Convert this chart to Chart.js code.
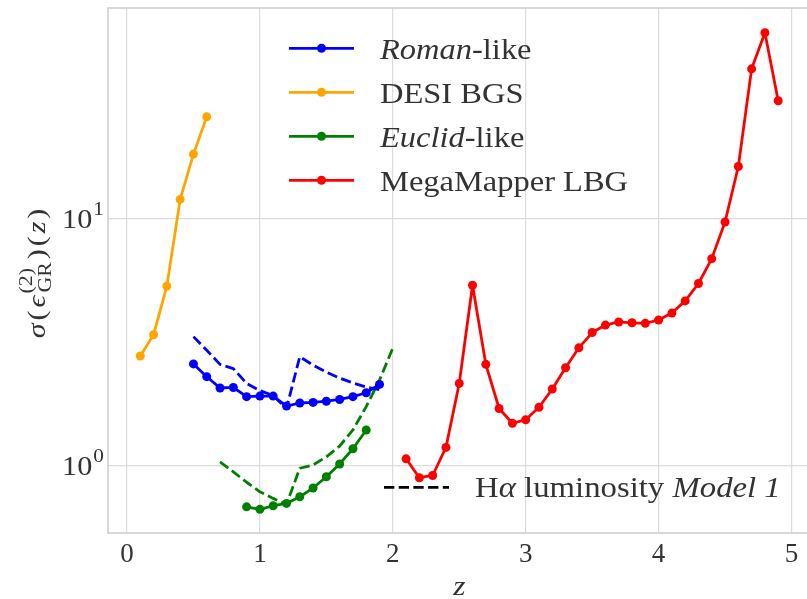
<!DOCTYPE html>
<html>
<head>
<meta charset="utf-8">
<script src="https://cdn.jsdelivr.net/npm/chart.js@4.4.1/dist/chart.umd.min.js"></script>
<style>
	html, body { margin: 0; padding: 0; overflow: hidden; background: #fff; }
	canvas { display: block; }
</style>
</head>
<body>
<canvas id="chart" width="815" height="599" style="width:815px;height:599px"></canvas>
<script>
// redshift grids
const zDesi = [0.1, 0.2, 0.3, 0.4, 0.5, 0.6];
const zRoman = [0.5, 0.6, 0.7, 0.8, 0.9, 1.0, 1.1, 1.2, 1.3, 1.4, 1.5, 1.6, 1.7, 1.8, 1.9];
const zEuclid = [0.9, 1.0, 1.1, 1.2, 1.3, 1.4, 1.5, 1.6, 1.7, 1.8];
const zEuclidModel = [0.7, 0.8, 0.9, 1.0, 1.1, 1.2, 1.3, 1.4, 1.5, 1.6, 1.7, 1.8, 1.9, 2.0];
const zMega = [2.1, 2.2, 2.3, 2.4, 2.5, 2.6, 2.7, 2.8, 2.9, 3.0, 3.1, 3.2, 3.3, 3.4, 3.5,
	3.6, 3.7, 3.8, 3.9, 4.0, 4.1, 4.2, 4.3, 4.4, 4.5, 4.6, 4.7, 4.8, 4.9];

// sigma(eps_GR^(2))(z)
const sigmaDesi = [2.79, 3.40, 5.35, 12.0, 18.3, 25.9];
const sigmaRoman = [2.59, 2.30, 2.07, 2.08, 1.91, 1.92, 1.92, 1.75, 1.80, 1.81, 1.83, 1.86, 1.91, 1.98, 2.14];
const sigmaRomanModel1 = [3.34, 2.94, 2.58, 2.48, 2.16, 2.02, 1.93, 1.71, 2.77, 2.56, 2.40, 2.27, 2.17, 2.09, 2.04];
const sigmaEuclid = [0.684, 0.668, 0.691, 0.706, 0.751, 0.815, 0.905, 1.02, 1.175, 1.40];
const sigmaEuclidModel1 = [1.04, 0.948, 0.86, 0.787, 0.74, 0.70, 0.98, 1.01, 1.09, 1.205, 1.40, 1.74, 2.23, 3.0];
const sigmaMega = [1.07, 0.897, 0.916, 1.19, 2.16, 5.39, 2.58, 1.71, 1.49, 1.54, 1.73, 2.05, 2.50, 3.01, 3.47,
	3.72, 3.83, 3.80, 3.78, 3.90, 4.16, 4.66, 5.48, 6.91, 9.72, 16.3, 40.5, 56.7, 30.1];

const xTicks = [0, 1, 2, 3, 4, 5];
const yTicks = [1, 10];
const yTickExp = ["0", "1"];

const SERIF = '"Liberation Serif", "DejaVu Serif", serif';
const TEXT = "#333333";
const GRID = "#dcdcdc";
const STRETCH = 1.12; // the original uses a wider (Computer Modern) face

const pts = (xs, ys) => xs.map((x, i) => ({ x: x, y: ys[i] }));

function solid(label, xs, ys, color) {
	return {
		label: label,
		data: pts(xs, ys),
		borderColor: color,
		backgroundColor: color,
		borderWidth: 2.8,
		borderJoinStyle: "round",
		pointRadius: 4.5,
		pointBorderWidth: 0,
		pointBackgroundColor: color,
		tension: 0,
	};
}

function dashed(label, xs, ys, color) {
	return {
		label: label,
		data: pts(xs, ys),
		borderColor: color,
		borderWidth: 2.8,
		borderJoinStyle: "round",
		borderDash: [10.3, 4.4],
		pointRadius: 0,
		tension: 0,
	};
}

function setFont(ctx, r) {
	ctx.font = `${r.italic ? "italic " : ""}${r.size}px ${SERIF}`;
}

// width of a run list once stretched and letter spaced
function runsWidth(ctx, runs, sx, ls) {
	let w = 0;
	runs.forEach((r) => {
		setFont(ctx, r);
		for (const ch of r.text) w += ctx.measureText(ch).width * sx + ls;
	});
	return w;
}

// draw text made of several runs (regular / italic) left to right
function drawRuns(ctx, runs, x, y, sx = STRETCH, ls = 0) {
	runs.forEach((r) => {
		setFont(ctx, r);
		for (const ch of r.text) {
			ctx.save();
			ctx.translate(x, y + (r.dy || 0));
			ctx.scale(sx, 1);
			ctx.fillText(ch, 0, 0);
			ctx.restore();
			x += ctx.measureText(ch).width * sx + ls;
		}
	});
	return x;
}

const decorations = {
	id: "decorations",
	beforeDatasetsDraw(chart) {
		const { ctx, chartArea } = chart;
		ctx.save();
		ctx.strokeStyle = "#cccccc";
		ctx.lineWidth = 1.5;
		ctx.strokeRect(chartArea.left, chartArea.top, chartArea.right - chartArea.left, chartArea.bottom - chartArea.top);
		ctx.restore();
	},
	afterDraw(chart) {
		const { ctx, chartArea } = chart;
		const yScale = chart.scales.y;
		ctx.save();
		ctx.fillStyle = TEXT;
		ctx.textBaseline = "alphabetic";
		ctx.textAlign = "left";

		// y tick labels 10^n
		yTicks.forEach((v, i) => {
			const py = yScale.getPixelForValue(v);
			const base = [{ text: "10", size: 27 }];
			const exp = [{ text: yTickExp[i], size: 19 }];
			const w = runsWidth(ctx, base, STRETCH, 0) + 1 + runsWidth(ctx, exp, STRETCH, 0);
			const x = drawRuns(ctx, base, 104 - w, py + 9);
			drawRuns(ctx, exp, x + 1, py - 4);
		});

		// x axis title
		drawRuns(ctx, [{ text: "z", italic: true, size: 28 }], (chartArea.left + chartArea.right) / 2 - 6, 595);

		// y axis title: sigma(eps^(2)_GR)(z)
		ctx.save();
		ctx.translate(45, 272);
		ctx.rotate(-Math.PI / 2);
		const head = [
			{ text: "σ", italic: true, size: 26 },
			{ text: "(", size: 26 },
			{ text: "ϵ", italic: true, size: 26 },
		];
		const tail = [
			{ text: ")(", size: 26 },
			{ text: "z", italic: true, size: 26 },
			{ text: ")", size: 26 },
		];
		const sx = 1.15;
		const ls = 3;
		const wSup = runsWidth(ctx, [{ text: "(2)", size: 19 }], sx, 0);
		const wSub = runsWidth(ctx, [{ text: "GR", size: 19 }], sx, 0);
		const wStack = Math.max(wSup, wSub) + ls;
		const total = runsWidth(ctx, head, sx, ls) + wStack + runsWidth(ctx, tail, sx, ls);
		let x = drawRuns(ctx, head, -total / 2, 0, sx, ls);
		drawRuns(ctx, [{ text: "(2)", size: 19 }], x - 1, -13, sx, 0);
		drawRuns(ctx, [{ text: "GR", size: 19 }], x, 6, sx, 0);
		x += wStack;
		drawRuns(ctx, tail, x, 0, sx, ls);
		ctx.restore();

		// main legend
		const legendRows = [
			{ color: "#0000ff", runs: [{ text: "Roman", italic: true, size: 29 }, { text: "-like", size: 29 }] },
			{ color: "#ffa500", runs: [{ text: "DESI BGS", size: 29 }] },
			{ color: "#008000", runs: [{ text: "Euclid", italic: true, size: 29 }, { text: "-like", size: 29 }] },
			{ color: "#ff0000", runs: [{ text: "MegaMapper LBG", size: 29 }] },
		];
		legendRows.forEach((row, i) => {
			const cy = 48.3 + i * 44;
			ctx.strokeStyle = row.color;
			ctx.fillStyle = row.color;
			ctx.lineWidth = 2.8;
			ctx.setLineDash([]);
			ctx.beginPath();
			ctx.moveTo(289, cy);
			ctx.lineTo(354, cy);
			ctx.stroke();
			ctx.beginPath();
			ctx.arc(321.5, cy, 4.5, 0, Math.PI * 2);
			ctx.fill();
			ctx.fillStyle = TEXT;
			drawRuns(ctx, row.runs, 380, cy + 11);
		});

		// model legend
		ctx.strokeStyle = "#000000";
		ctx.lineWidth = 2.8;
		ctx.setLineDash([10.3, 4.4]);
		ctx.beginPath();
		ctx.moveTo(384, 487.3);
		ctx.lineTo(449, 487.3);
		ctx.stroke();
		ctx.setLineDash([]);
		ctx.fillStyle = TEXT;
		drawRuns(ctx, [
			{ text: "H", size: 29 },
			{ text: "α", italic: true, size: 29 },
			{ text: " luminosity ", size: 29 },
			{ text: "Model 1", italic: true, size: 29 },
		], 475, 497, 1.13);
		ctx.restore();
	},
};

new Chart(document.getElementById("chart"), {
	type: "line",
	data: {
		datasets: [
			solid("Roman-like", zRoman, sigmaRoman, "#0000ff"),
			dashed("Roman-like Model 1", zRoman, sigmaRomanModel1, "#0000ff"),
			solid("DESI BGS", zDesi, sigmaDesi, "#ffa500"),
			solid("Euclid-like", zEuclid, sigmaEuclid, "#008000"),
			dashed("Euclid-like Model 1", zEuclidModel, sigmaEuclidModel1, "#008000"),
			solid("MegaMapper LBG", zMega, sigmaMega, "#ff0000"),
		],
	},
	options: {
		responsive: false,
		animation: false,
		layout: { padding: { top: 8, right: 4, left: 0, bottom: 0 } },
		plugins: {
			legend: { display: false },
			tooltip: { enabled: false },
		},
		scales: {
			x: {
				type: "linear",
				min: -0.143,
				max: 5.143,
				afterBuildTicks: (s) => { s.ticks = xTicks.map((v) => ({ value: v })); },
				afterFit: (s) => { s.height = 66; },
				grid: { color: GRID, lineWidth: 1.2, drawTicks: false },
				border: { display: false },
				ticks: {
					padding: 6,
					color: TEXT,
					maxRotation: 0,
					font: { family: SERIF, size: 27 },
					callback: (v) => String(v),
				},
			},
			y: {
				type: "logarithmic",
				min: 0.536,
				max: 71.4,
				afterBuildTicks: (s) => { s.ticks = yTicks.map((v) => ({ value: v })); },
				afterFit: (s) => { s.width = 108; },
				grid: { color: GRID, lineWidth: 1.2, drawTicks: false },
				border: { display: false },
				ticks: { display: false },
			},
		},
	},
	plugins: [decorations],
});
</script>
</body>
</html>
